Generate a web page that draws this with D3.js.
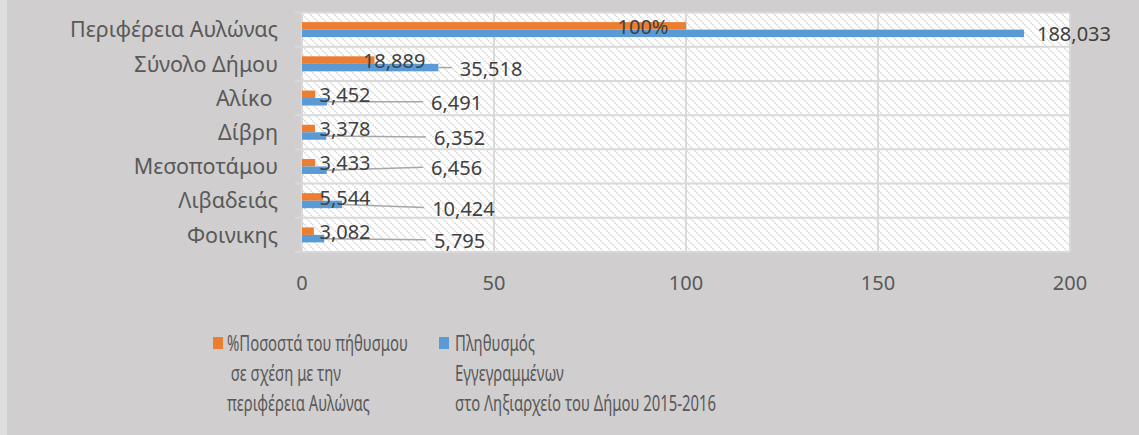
<!DOCTYPE html>
<html>
<head>
<meta charset="utf-8">
<script src="https://cdn.jsdelivr.net/npm/d3@7"></script>
<style>
  body { margin: 0; background: #d0cece; }
  svg { display: block; font-family: "Noto Sans", sans-serif; }
</style>
</head>
<body>
<svg id="chart" width="1139" height="435"></svg>
<script>
// data
const categories = ["Περιφέρεια Αυλώνας", "Σύνολο Δήμου", "Αλίκο ", "Δίβρη", "Μεσοποτάμου", "Λιβαδειάς", "Φοινικης"];
const pctValues = [100, 18.889, 3.452, 3.378, 3.433, 5.544, 3.082];
const popValues = [188.033, 35.518, 6.491, 6.352, 6.456, 10.424, 5.795];
const xTicks = [0, 50, 100, 150, 200];
const legendPct = ["%Ποσοστά του πήθυσμου", " σε σχέση με την", "περιφέρεια Αυλώνας"];
const legendPop = ["Πληθυσμός", "Εγγεγραμμένων", "στο Ληξιαρχείο του Δήμου 2015-2016"];

// label placement (axis units for x, px nudges for y) - copied from the excel layout
const pctLabelCx = [88.8, 24.0, 11.2, 11.2, 11.2, 11.2, 11.2];
const popLabelX0 = [191.4, 41.1, 33.6, 34.4, 33.6, 33.9, 34.4];
const popLabelDy = [0, 1, 1, 2, -2, 4, 2];

const svg = d3.select("#chart");
const W = 1139, H = 435;

// light strip on the left edge
svg.append("rect").attr("width", W).attr("height", H).attr("fill", "#d0cece");
svg.append("rect").attr("width", 7).attr("height", H).attr("fill", "#dedede");

// hatch pattern for plot area
const defs = svg.append("defs");
const pat = defs.append("pattern")
    .attr("id", "hatch")
    .attr("patternUnits", "userSpaceOnUse")
    .attr("width", 8).attr("height", 8);
pat.append("rect").attr("width", 8).attr("height", 8).attr("fill", "#ffffff");
pat.append("path")
    .attr("d", "M-2,-2 L10,10 M-2,6 L2,10 M6,-2 L10,2")
    .attr("stroke", "#d9d9d9")
    .attr("stroke-width", 1.4)
    .attr("stroke-dasharray", "2,1");

const x = d3.scaleLinear().domain([0, 200]).range([302, 1070]);
const y = d3.scaleBand().domain(categories).range([12.5, 252]);
const bh = 7.5;
const fmt = d3.formatLocale({decimal: ",", thousands: ".", grouping: [3], currency: ["", ""]}).format(".3f");

// plot background
svg.append("rect")
    .attr("x", x(0)).attr("y", y.range()[0])
    .attr("width", x(200) - x(0)).attr("height", y.range()[1] - y.range()[0])
    .attr("fill", "url(#hatch)");

// gridlines
const grid = svg.append("g").attr("stroke", "#d9d9d9").attr("stroke-width", 2);
grid.selectAll("line.v").data(xTicks).enter().append("line")
    .attr("x1", d => x(d)).attr("x2", d => x(d))
    .attr("y1", y.range()[0]).attr("y2", y.range()[1]);
const bounds = categories.map(c => y(c)).concat([y.range()[1]]);
grid.selectAll("line.h").data(bounds).enter().append("line")
    .attr("x1", x(0) - 7).attr("x2", x(200))
    .attr("y1", d => d).attr("y2", d => d);

// x axis labels
svg.append("g").selectAll("text").data(xTicks).enter().append("text")
    .attr("x", d => x(d)).attr("y", 283)
    .attr("dy", "0.36em")
    .attr("text-anchor", "middle")
    .attr("font-size", 20)
    .attr("fill", "#595959")
    .text(d => d);

// category labels
svg.append("g").selectAll("text").data(categories).enter().append("text")
    .attr("x", 278).attr("y", d => y(d) + y.bandwidth() / 2)
    .attr("dy", "0.36em")
    .attr("text-anchor", "end")
    .attr("font-size", 21.5)
    .attr("fill", "#595959")
    .attr("xml:space", "preserve")
    .style("white-space", "pre")
    .text(d => d);

const mid = c => y(c) + y.bandwidth() / 2;

// bars
svg.append("g").selectAll("rect").data(pctValues).enter().append("rect")
    .attr("x", x(0))
    .attr("y", (d, i) => mid(categories[i]) - bh)
    .attr("width", d => x(d) - x(0))
    .attr("height", bh)
    .attr("fill", "#ed7d31");
svg.append("g").selectAll("rect").data(popValues).enter().append("rect")
    .attr("x", x(0))
    .attr("y", (d, i) => mid(categories[i]))
    .attr("width", d => x(d) - x(0))
    .attr("height", bh)
    .attr("fill", "#5b9bd5");

// leader lines for blue labels
svg.append("g").selectAll("line").data(popValues).enter()
    .filter((d, i) => i > 0)
    .append("line")
    .attr("x1", d => x(d))
    .attr("y1", (d, i) => mid(categories[i + 1]) + bh / 2)
    .attr("x2", (d, i) => x(popLabelX0[i + 1]) - 8)
    .attr("y2", (d, i) => mid(categories[i + 1]) + bh / 2 + popLabelDy[i + 1] - 1)
    .attr("stroke", "#a6a6a6")
    .attr("stroke-width", 1.5);

// data labels
svg.append("g").selectAll("text").data(pctValues).enter().append("text")
    .attr("x", (d, i) => x(pctLabelCx[i]))
    .attr("y", (d, i) => mid(categories[i]) - bh / 2 + 0.5)
    .attr("dy", "0.36em")
    .attr("text-anchor", "middle")
    .attr("font-size", 20)
    .attr("fill", "#404040")
    .text(d => d === 100 ? "100%" : fmt(d));
svg.append("g").selectAll("text").data(popValues).enter().append("text")
    .attr("x", (d, i) => x(popLabelX0[i]))
    .attr("y", (d, i) => mid(categories[i]) + bh / 2 + popLabelDy[i])
    .attr("dy", "0.36em")
    .attr("font-size", 20)
    .attr("fill", "#404040")
    .text(d => fmt(d));

// legend
const leg = svg.append("g");
function legendItem(sx, sy, color, lines) {
    leg.append("rect").attr("x", sx).attr("y", sy).attr("width", 10).attr("height", 12).attr("fill", color);
    const g = leg.append("g");
    lines.forEach((t, k) => {
        g.append("text")
            .attr("x", 0).attr("y", 343 + k * 30)
            .attr("dy", "0.36em")
            .attr("font-size", 21)
            .attr("fill", "#595959")
            .attr("xml:space", "preserve")
            .style("white-space", "pre")
            .text(t);
    });
    return g;
}
const g1 = legendItem(213, 337, "#ed7d31", legendPct);
const g2 = legendItem(439, 337, "#5b9bd5", legendPop);
// legend text is squeezed horizontally in the original
const natural = g1.selectAll("text").nodes()[2].getComputedTextLength();
const sx = 143 / natural;
g1.attr("transform", `translate(227,0) scale(${sx},1)`);
g2.attr("transform", `translate(455,0) scale(${sx},1)`);
</script>
</body>
</html>
